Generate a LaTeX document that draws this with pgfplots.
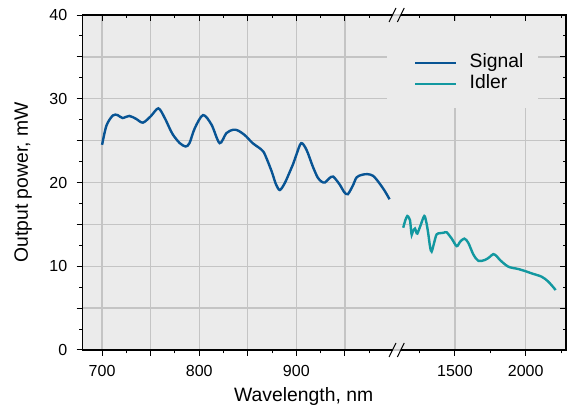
\documentclass[border=0pt]{standalone}
\usepackage{pgfplots}
\pgfplotsset{compat=1.18}
\usepackage{pgfplotstable}
\usepackage{fontspec}
\setmainfont{Liberation Sans}

\definecolor{sigblue}{RGB}{8,84,148}
\definecolor{idlteal}{RGB}{18,152,160}
\definecolor{panel}{RGB}{235,235,235}
\definecolor{gridgray}{RGB}{196,196,196}

% signal branch, nm vs mW
\pgfplotstableread{
lambda P
700 24.5
704.5 26.8
711 28.0
716 28.05
721 27.7
728 27.95
735 27.6
742 27.15
750 27.9
758 28.85
764.5 27.7
769 26.6
773 25.7
780 24.7
786 24.3
790 24.7
795.5 26.5
804 28.05
812.7 26.9
821 24.7
828 25.9
835 26.3
840 26.2
847 25.65
855 24.7
861 24.2
866 23.7
870 22.7
875 21.2
879 19.8
883 19.1
888 19.9
893 21.2
897 22.3
900 23.3
905 24.7
910.5 23.9
917 21.9
922 20.6
926 20.1
929.5 20.0
934 20.5
938 20.7
945 19.7
949 18.9
953 18.6
958.5 19.7
962 20.6
967 20.9
973 21.0
979 20.8
985 20.0
991 19.0
996 18.0
}\signal

% idler branch
\pgfplotstableread{
lambda P
1134 14.6
1149 15.5
1163 16.0
1174 15.8
1182 15.5
1189 14.4
1194 13.75
1203 14.2
1217 14.5
1226 14.1
1234 13.9
1257 14.9
1283 16.0
1298 15.2
1311 13.9
1324 12.3
1335 11.75
1354 12.9
1370 13.8
1394 13.95
1420 14.0
1441 14.05
1477 13.3
1512 12.4
1535 12.9
1566 13.3
1594 12.8
1630 11.4
1665 10.65
1712 10.75
1745 11.1
1771 11.45
1795 11.2
1818 10.75
1877 9.95
1948 9.67
2000 9.4
2042 9.15
2113 8.75
2160 8.16
2212 7.16
}\idler

\pgfplotsset{
  common/.style={
    scale only axis,
    height=251.25pt,
    ymin=0, ymax=40,
    ytick={0,5,...,40},
    minor y tick num=1,
    axis line style={draw=none},
    tick style={black, line width=0.75pt},
    major tick length=4.5pt,
    minor tick length=2.6pt,
    /pgf/number format/assume math mode=true,
    tick label style={font=\fontsize{12}{14}\selectfont},
    major grid style={gridgray, line width=1pt},
  },
  leftx/.style={width=235.7pt, xmin=680, xmax=1003.6,
    xtick={700,750,...,950}, minor xtick={725,775,...,975},
    at={(62pt,42.75pt)}, anchor=south west},
  rightx/.style={width=126.75pt, xmin=1090, xmax=2285,
    xtick={1500,2000}, minor xtick={1250,1750,2250},
    at={(297.75pt,42.75pt)}, anchor=south west},
  sigline/.style={sigblue, line width=1.8pt},
  idline/.style={idlteal, line width=1.8pt},
}

\begin{document}
\begin{tikzpicture}
\path[use as bounding box] (0pt,0pt) rectangle (426.75pt,305.25pt);

% left part, outside ticks
\begin{axis}[common, leftx,
  axis background/.style={fill=panel},
  grid=major,
  tick align=outside, xtick pos=left, ytick pos=left,
  xticklabels={700,,800,,900,},
  yticklabels={0,,10,,20,,30,,40},
  xticklabel style={inner sep=0pt, yshift=-6.6pt},
  yticklabel style={inner sep=0pt, xshift=-6.9pt},
  xlabel={Wavelength, nm},
  ylabel={Output power, mW},
  label style={font=\fontsize{14.5}{17}\selectfont},
  xlabel style={at={(axis description cs:0.7032,-0.1543)}, anchor=base},
  ylabel style={at={(axis description cs:-0.174,0.5)}, anchor=base},
]
\addplot[sigline, smooth, tension=0.5] table {\signal};
\end{axis}

% right part
\begin{axis}[common, rightx,
  axis background/.style={fill=panel},
  grid=major,
  tick align=inside, xtick pos=right, ytick pos=right,
  xticklabels={}, yticklabels={},
]
\addplot[idline, smooth, tension=0.5] table {\idler};
\end{axis}

% legend backdrop hides the grid
\fill[panel] (290.25pt,224.25pt) rectangle (403.5pt,289.5pt);

% top ticks of the left part point inwards
\begin{axis}[common, leftx,
  tick align=inside, xtick pos=right, ytick=\empty, xticklabels={},
]
\end{axis}

% bottom ticks of the right part point outwards, plus legend
\begin{axis}[common, rightx,
  tick align=outside, xtick pos=left, ytick=\empty,
  xticklabels={1500,2000},
  xticklabel style={inner sep=0pt, yshift=-6.6pt},
  legend cell align=left,
  legend image code/.code={\draw[#1] (0pt,0pt) -- (30.75pt,0pt);},
  legend style={at={(axis description cs:0.1006,0.8254)}, anchor=west,
    draw=none, fill=none, inner sep=0pt, row sep=2.25pt,
    font=\fontsize{14.5}{17}\selectfont,
    nodes={inner sep=0pt, text height=10.5pt, text depth=3.1pt},
    /tikz/every odd column/.style={column sep=9pt}},
]
\addlegendimage{sigline}
\addlegendentry{Signal}
\addlegendimage{idline}
\addlegendentry{Idler}
\end{axis}

% frame with the axis break
\draw[line width=1pt] (294.4pt,294pt) -- (62pt,294pt) -- (62pt,42.75pt) -- (294.4pt,42.75pt);
\draw[line width=1pt] (300.6pt,42.75pt) -- (424.5pt,42.75pt) -- (424.5pt,294pt) -- (300.6pt,294pt);
\foreach \bx in {294.4pt,300.6pt}{
  \foreach \by in {42.75pt,294pt}{
    \draw[line width=0.75pt] ([xshift=-2.6pt,yshift=-5.25pt]\bx,\by) -- ([xshift=2.6pt,yshift=5.25pt]\bx,\by);
  }
}
\end{tikzpicture}
\end{document}
